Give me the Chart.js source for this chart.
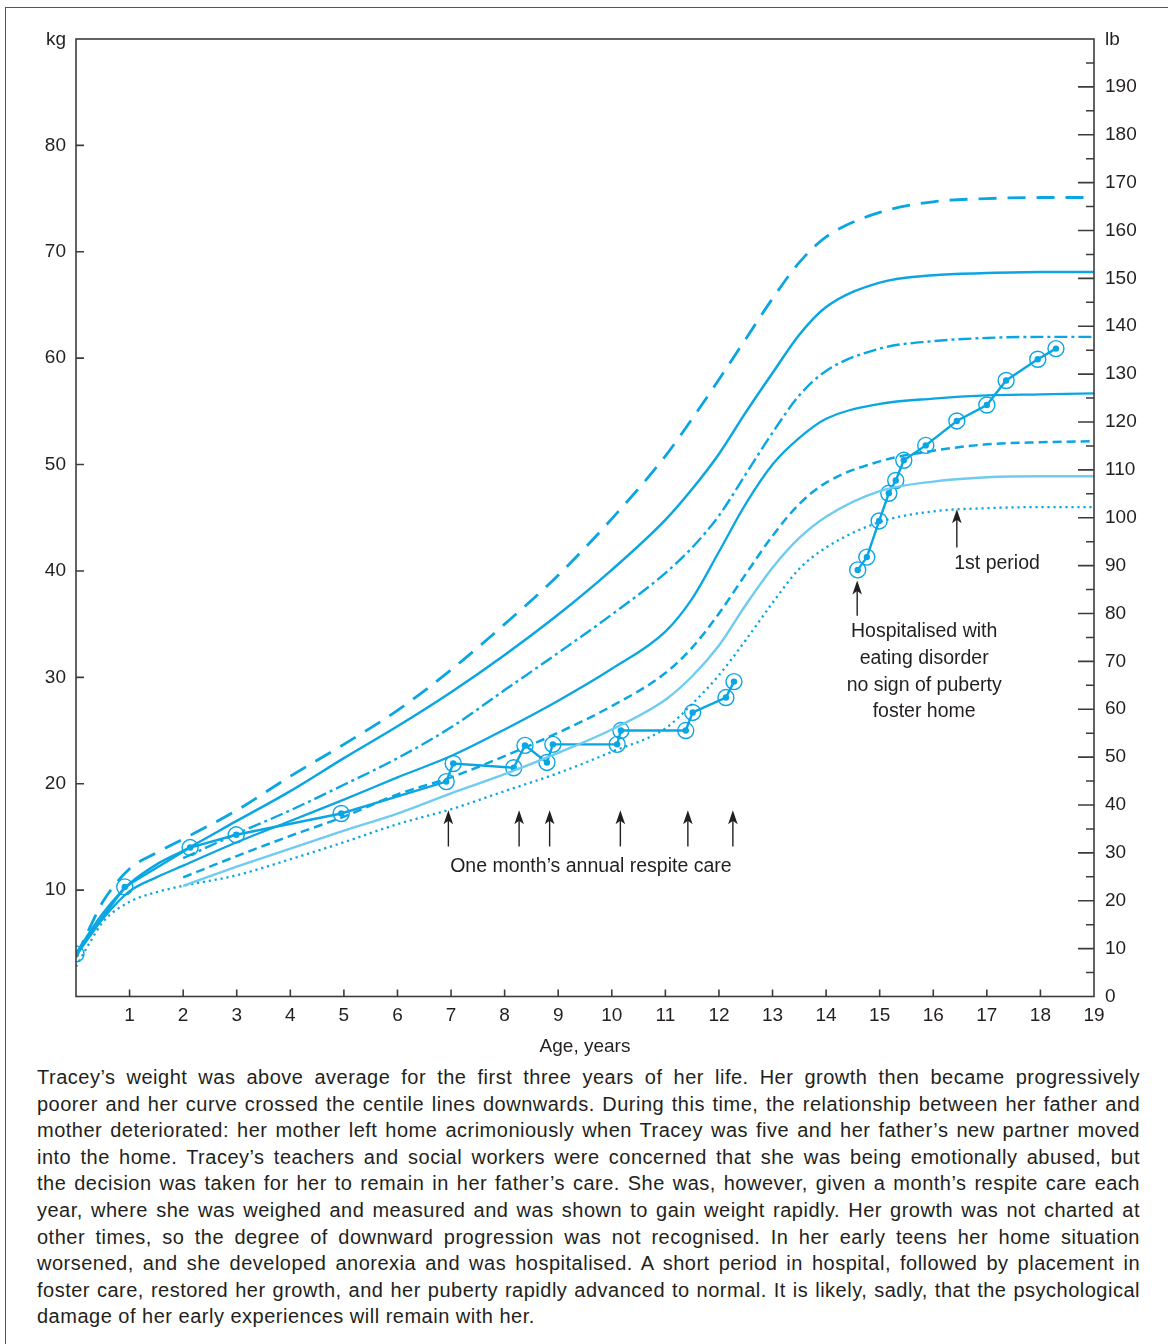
<!DOCTYPE html>
<html><head><meta charset="utf-8">
<script src="https://cdn.jsdelivr.net/npm/chart.js@4.4.1/dist/chart.umd.min.js"></script>
<style>
html,body{margin:0;padding:0;background:#fff;overflow:hidden;width:1168px;height:1344px;}
#frame{position:absolute;left:5px;top:7px;width:1200px;height:1400px;border-left:1.5px solid #555;border-top:1.5px solid #555;}
#c{position:absolute;left:0;top:0;}
#caption{position:absolute;left:37px;top:1064px;width:1103px;font-family:'Liberation Sans',Arial,sans-serif;font-size:20px;line-height:26.6px;color:#231f20;letter-spacing:0.5px;}
#caption div{text-align:justify;text-align-last:justify;white-space:nowrap;}
#caption div.last{text-align-last:left;}
</style></head>
<body>
<div id="frame"></div>
<canvas id="c" width="1168" height="1060"></canvas>
<div id="caption">
<div>Tracey’s weight was above average for the first three years of her life. Her growth then became progressively</div>
<div>poorer and her curve crossed the centile lines downwards. During this time, the relationship between her father and</div>
<div>mother deteriorated: her mother left home acrimoniously when Tracey was five and her father’s new partner moved</div>
<div>into the home. Tracey’s teachers and social workers were concerned that she was being emotionally abused, but</div>
<div>the decision was taken for her to remain in her father’s care. She was, however, given a month’s respite care each</div>
<div>year, where she was weighed and measured and was shown to gain weight rapidly. Her growth was not charted at</div>
<div>other times, so the degree of downward progression was not recognised. In her early teens her home situation</div>
<div>worsened, and she developed anorexia and was hospitalised. A short period in hospital, followed by placement in</div>
<div>foster care, restored her growth, and her puberty rapidly advanced to normal. It is likely, sadly, that the psychological</div>
<div class="last">damage of her early experiences will remain with her.</div>
</div>
<script>
// ---- Data (ages in years, weights in kg) ----
const agesFromBirth = [0, 0.25, 0.5, 1, 1.5, 2, 3, 4, 5, 6, 7, 8, 9, 10, 11, 11.5, 12, 12.5, 13, 13.5, 14, 15, 16, 17, 18, 19];
const agesFromTwo   = [2, 3, 4, 5, 6, 7, 8, 9, 10, 11, 11.5, 12, 12.5, 13, 13.5, 14, 15, 16, 17, 18, 19];

const centileTopDashed = [3.7, 6.4, 8.9, 12.0, 13.5, 14.8, 17.5, 20.7, 23.7, 26.9, 30.7, 35.0, 39.6, 44.9, 50.8, 54.3, 58.0, 61.8, 65.6, 69.0, 71.4, 73.7, 74.7, 75.0, 75.1, 75.1];
const centileUpperSolid = [4.0, 6.0, 7.8, 10.6, 12.4, 13.7, 16.5, 19.3, 22.4, 25.4, 28.6, 32.1, 35.9, 40.1, 44.8, 47.7, 51.0, 54.9, 58.6, 62.2, 64.8, 67.1, 67.8, 68.0, 68.1, 68.1];
const centileDashDot = [13.0, 15.3, 17.5, 19.9, 22.4, 25.3, 28.8, 32.3, 35.9, 39.8, 42.2, 45.2, 49.1, 53.0, 56.5, 58.8, 60.9, 61.6, 61.9, 62.0, 62.0];
const centileMidSolid = [3.8, 5.6, 7.3, 9.9, 11.2, 12.3, 14.5, 16.5, 18.5, 20.6, 22.6, 25.1, 27.8, 30.8, 34.3, 37.4, 41.8, 46.3, 50.0, 52.5, 54.3, 55.7, 56.2, 56.5, 56.6, 56.7];
const centileShortDashed = [11.2, 13.2, 15.1, 16.9, 19.0, 20.6, 22.6, 24.8, 27.3, 30.4, 32.8, 36.0, 39.7, 43.3, 46.3, 48.3, 50.3, 51.3, 51.9, 52.1, 52.2];
const centileLightSolid = [10.4, 12.2, 13.9, 15.6, 17.2, 19.1, 20.9, 22.9, 25.1, 27.9, 30.1, 33.0, 36.8, 40.3, 43.1, 45.1, 47.5, 48.4, 48.8, 48.9, 48.9];
const centileDotted = [2.8, 5.0, 7.0, 8.9, 9.8, 10.4, 11.4, 12.9, 14.5, 16.2, 17.6, 19.3, 21.0, 23.0, 25.2, 27.5, 30.2, 33.5, 37.0, 40.2, 42.2, 44.6, 45.6, 45.9, 46.0, 46.0];

const childAges = [0, 0.91, 2.13, 2.99, 4.95, 6.91, 7.04, 8.17, 8.38, 8.79, 8.90, 10.10, 10.17, 11.38, 11.51, 12.13, 12.28];
const childKg   = [4.0, 10.3, 14.0, 15.2, 17.2, 20.2, 21.9, 21.5, 23.6, 22.0, 23.7, 23.7, 25.0, 25.0, 26.7, 28.1, 29.6];
const teenAges  = [14.59, 14.76, 14.99, 15.17, 15.30, 15.45, 15.86, 16.44, 17.00, 17.36, 17.95, 18.29];
const teenKg    = [40.1, 41.3, 44.7, 47.3, 48.5, 50.4, 51.8, 54.1, 55.6, 57.9, 59.9, 60.9];

const respiteArrowAges = [6.95, 8.27, 8.84, 10.16, 11.42, 12.26];
const ageTicks = [1,2,3,4,5,6,7,8,9,10,11,12,13,14,15,16,17,18];
const kgTicks = [10,20,30,40,50,60,70,80];
const LB_MAX = 200;

// ---- Styles ----
const BLUE = '#0aa6e3';
const LIGHT = '#6fcbf1';
const INK = '#231f20';
const AXIS = '#3c3c3c';
const FONT = "'Liberation Sans', Arial, sans-serif";

const pts = (a, v) => a.map((x, i) => ({x, y: v[i]}));
const curve = (data, extra) => Object.assign({
  data, borderColor: BLUE, borderWidth: 2.4, pointRadius: 0, fill: false,
  cubicInterpolationMode: 'monotone', borderCapStyle: 'butt'
}, extra);

const datasets = [
  curve(pts(agesFromBirth, centileTopDashed), {borderDash: [18, 11], borderWidth: 2.8}),
  curve(pts(agesFromBirth, centileUpperSolid), {borderWidth: 2.5}),
  curve(pts(agesFromTwo, centileDashDot), {borderDash: [13, 4, 3, 4], borderWidth: 2.4}),
  curve(pts(agesFromBirth, centileMidSolid), {borderWidth: 2.3}),
  curve(pts(agesFromTwo, centileShortDashed), {borderDash: [9, 5], borderWidth: 2.5}),
  curve(pts(agesFromTwo, centileLightSolid), {borderColor: LIGHT, borderWidth: 2.4}),
  curve(pts(agesFromBirth, centileDotted), {borderDash: [2.2, 3.8], borderWidth: 2.3}),
];
[[childAges, childKg], [teenAges, teenKg]].forEach(([a, k]) => {
  datasets.push({data: pts(a, k), borderColor: BLUE, borderWidth: 2.4, tension: 0,
    pointRadius: 3.2, pointBackgroundColor: BLUE, pointBorderWidth: 0, fill: false});
  datasets.push({data: pts(a, k), showLine: false, pointRadius: 8, pointBorderColor: BLUE,
    pointBackgroundColor: 'rgba(0,0,0,0)', pointBorderWidth: 1.4});
});

function arrow(ctx, x, yTip, yTail) {
  ctx.beginPath(); ctx.moveTo(x, yTail); ctx.lineTo(x, yTip + 9); ctx.stroke();
  ctx.beginPath(); ctx.moveTo(x, yTip); ctx.lineTo(x - 4.8, yTip + 14); ctx.lineTo(x, yTip + 10.5);
  ctx.lineTo(x + 4.8, yTip + 14); ctx.closePath(); ctx.fill();
}

const overlay = {
  id: 'overlay',
  afterDraw(chart) {
    const {ctx, chartArea: a, scales: {x, y, lb}} = chart;
    ctx.save();
    ctx.strokeStyle = AXIS; ctx.lineWidth = 1.6;
    ctx.strokeRect(a.left, a.top, a.right - a.left, a.bottom - a.top);
    ctx.beginPath();
    ageTicks.forEach(v => { const p = x.getPixelForValue(v); ctx.moveTo(p, a.bottom); ctx.lineTo(p, a.bottom - 7); });
    kgTicks.forEach(v => { const p = y.getPixelForValue(v); ctx.moveTo(a.left, p); ctx.lineTo(a.left + 8, p); });
    for (let v = 5; v < LB_MAX; v += 5) {
      const p = lb.getPixelForValue(v); const len = v % 10 === 0 ? 16 : 8;
      ctx.moveTo(a.right - len, p); ctx.lineTo(a.right, p);
    }
    ctx.stroke();
    ctx.fillStyle = INK; ctx.font = '19px ' + FONT; ctx.textBaseline = 'middle';
    ctx.textAlign = 'right'; ctx.fillText('kg', a.left - 10, a.top + 1);
    ctx.textAlign = 'left'; ctx.fillText('lb', a.right + 11, a.top + 1);
    ctx.textAlign = 'center';
    ctx.fillText('Age, years', (a.left + a.right) / 2, a.bottom + 50);
    // annotations
    ctx.strokeStyle = INK; ctx.fillStyle = INK; ctx.lineWidth = 1.4;
    respiteArrowAges.forEach(v => arrow(ctx, x.getPixelForValue(v), y.getPixelForValue(17.5), y.getPixelForValue(14.1)));
    arrow(ctx, x.getPixelForValue(14.58), y.getPixelForValue(39.1), y.getPixelForValue(35.8));
    arrow(ctx, x.getPixelForValue(16.44), y.getPixelForValue(45.8), y.getPixelForValue(42.2));
    ctx.font = '19.5px ' + FONT;
    ctx.fillText('One month’s annual respite care', x.getPixelForValue(9.61), y.getPixelForValue(12.25));
    const hx = x.getPixelForValue(15.83);
    ['Hospitalised with', 'eating disorder', 'no sign of puberty', 'foster home'].forEach((t, i) =>
      ctx.fillText(t, hx, y.getPixelForValue(34.26 - 2.51 * i)));
    ctx.fillText('1st period', x.getPixelForValue(17.19), y.getPixelForValue(40.65));
    ctx.restore();
  }
};

const tickFont = {family: FONT, size: 19};
new Chart(document.getElementById('c'), {
  type: 'line',
  data: {datasets},
  plugins: [overlay],
  options: {
    responsive: false, animation: false, devicePixelRatio: 1,
    layout: {padding: {top: 39, left: 0, right: 0, bottom: 0}},
    plugins: {legend: {display: false}, tooltip: {enabled: false}},
    scales: {
      x: {type: 'linear', min: 0, max: 19, position: 'bottom',
        grid: {display: false, drawTicks: false}, border: {display: false},
        ticks: {stepSize: 1, padding: 8, autoSkip: false, maxRotation: 0, color: INK, font: tickFont,
          callback: v => v === 0 ? '' : v},
        afterFit: s => { s.height = 63.5; }},
      y: {type: 'linear', min: 0, max: 90, position: 'left',
        grid: {display: false, drawTicks: false}, border: {display: false},
        ticks: {stepSize: 10, padding: 10, color: INK, font: tickFont, includeBounds: false,
          callback: v => (v === 0 || v === 90) ? '' : v},
        afterFit: s => { s.width = 76; }},
      lb: {type: 'linear', min: 0, max: LB_MAX, position: 'right',
        grid: {display: false, drawTicks: false}, border: {display: false},
        ticks: {stepSize: 10, padding: 11, color: INK, font: tickFont, includeBounds: false, autoSkip: false,
          callback: v => v >= LB_MAX ? '' : v},
        afterFit: s => { s.width = 74; }}
    }
  }
});

// fit caption lines (keep the original line breaks)
document.querySelectorAll('#caption div').forEach(d => {
  let ls = 0.5;
  d.style.display = 'inline-block';
  while (d.offsetWidth > 1103 && ls > -1.5) { ls -= 0.05; d.style.letterSpacing = ls + 'px'; }
  d.style.display = '';
});
</script>
</body></html>
